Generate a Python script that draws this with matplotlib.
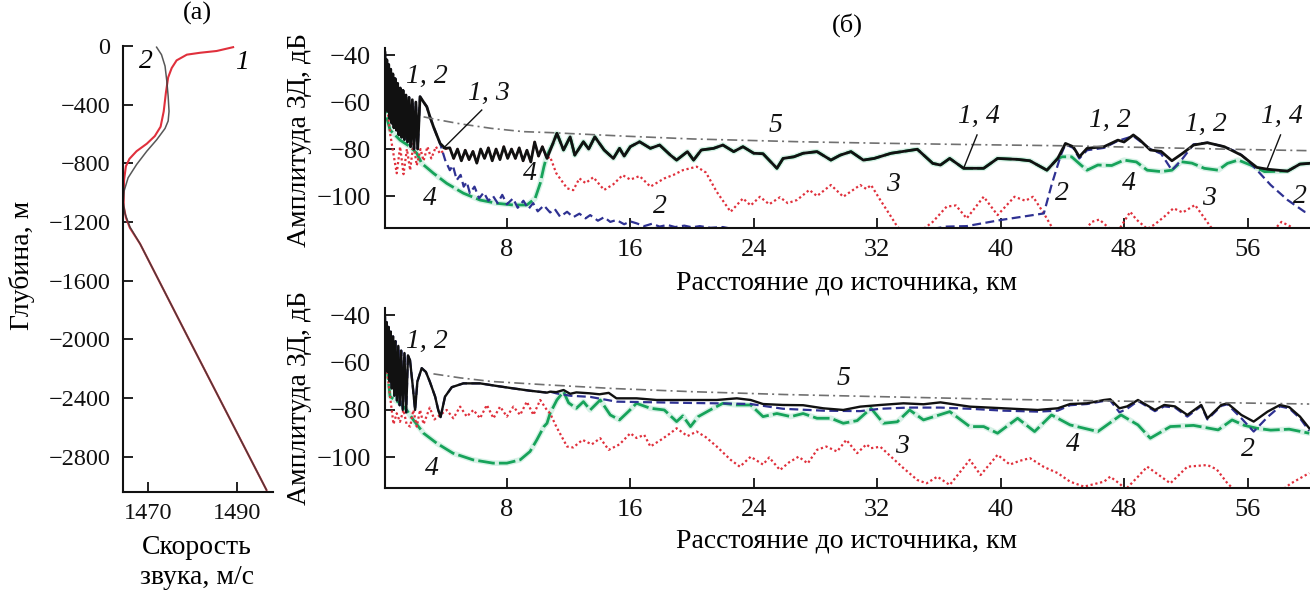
import matplotlib
matplotlib.use("Agg")
import matplotlib.pyplot as plt
import numpy as np

plt.rcParams['font.family'] = ['Liberation Serif', 'DejaVu Serif']
plt.rcParams['mathtext.fontset'] = 'stix'

# ---------------- panel (a): sound speed profiles ----------------
a_speed1 = [1489.2, 1485.5, 1481.8, 1478.8, 1476.5, 1475.4, 1474.6, 1474.1, 1473.6, 1472.9,
            1471.6, 1469.8, 1467.5, 1465.9, 1465.1, 1464.7, 1464.6, 1464.6, 1465.1, 1466.0,
            1468.3, 1479.1, 1496.7]
a_depth1 = [-8, -34, -46, -59, -98, -150, -214, -317, -446, -550,
            -614, -666, -717, -769, -820, -911, -1014, -1091, -1169, -1240,
            -1349, -1989, -3026]
a_speed2 = [1472.0, 1473.1, 1473.9, 1474.3, 1474.6, 1474.8, 1474.6, 1473.9, 1472.0, 1469.8,
            1467.5, 1465.6, 1464.7, 1464.5, 1464.9, 1466.0, 1468.3, 1479.1, 1496.7]
a_depth2 = [-8, -59, -137, -240, -343, -446, -511, -562, -640, -717,
            -808, -898, -988, -1066, -1143, -1233, -1349, -1989, -3026]
a_yticks = [0, -400, -800, -1200, -1600, -2000, -2400, -2800]
a_xticks = [1470, 1490]

# ---------------- panel (б), top ----------------
t1_r = [0.10, 0.16, 0.22, 0.28, 0.34, 0.40, 0.47, 0.54, 0.61, 0.68, 0.76, 0.84, 0.92, 1.00,
        1.09, 1.18, 1.27, 1.36, 1.46, 1.56, 1.66, 1.76, 1.87, 1.98, 2.10, 2.22,
        2.37, 2.6, 2.81, 3.0, 3.24, 3.45, 3.67, 4.0, 4.3,
        4.55, 4.8, 5.05, 5.3, 5.55, 5.8, 6.05, 6.3, 6.55, 6.8, 7.05, 7.3, 7.55, 7.8, 8.05, 8.3,
        8.55, 8.8, 9.05, 9.3, 9.55, 9.8, 10.05, 10.3, 10.6,
        10.9, 11.24, 11.67, 12.1, 12.4, 12.96, 13.3, 13.7, 14.3, 14.9, 15.3, 15.6, 16.0, 16.6,
        17.3, 17.9, 18.6, 19.0, 19.7, 20.1, 20.6, 21.4, 22.0, 22.7, 23.3, 24.0, 24.6, 25.5,
        25.9, 26.6, 27.2, 28.1, 29.0, 29.6, 30.3, 31.1, 31.8, 32.9, 34.6, 35.6, 36.1, 36.7,
        37.6, 38.9, 39.8, 41.1, 41.9, 43.0, 43.7, 44.2, 44.7, 45.1, 45.6, 46.7, 47.6, 48.0,
        48.6, 49.0, 49.7, 50.4, 51.1, 51.8, 52.5, 53.4, 54.5, 55.6, 56.6, 57.3, 58.6, 59.4, 60.0]
t1_a = [-39, -60, -42, -64, -44, -67, -46, -69, -48, -71, -50, -72, -52, -74,
        -54, -75, -55, -76, -57, -77, -58, -79, -59, -80, -60, -80,
        -57.7, -60, -62, -66, -70.5, -74, -77.6, -79.7, -79.5,
        -84, -80, -85, -80.5, -84.5, -81, -86, -80, -84, -79.5, -85, -80, -84.5, -79, -84, -80,
        -84, -79.5, -85, -80.5, -85.5, -77, -83, -79, -84,
        -79, -73.3, -80.4, -74.8, -82.6, -76.9, -80, -74.8, -80.4, -84, -79.7, -83, -79, -76.9,
        -79.7, -78.3, -82.6, -84.7, -81.1, -84.7, -80.4, -79.7, -78.3, -81.1, -79, -81.8, -82, -88.2,
        -84, -83.3, -81.8, -81.1, -84.7, -82.6, -81.1, -84.7, -84, -81.8, -80.1, -86.1, -86.8, -84,
        -88.2, -88.2, -84, -84.4, -85, -89, -84, -77.6, -79, -83.3, -79.7, -79, -76.2, -77,
        -74, -76, -80.4, -81, -85, -81.8, -78.3, -77.3, -79, -82.6, -87.8, -88.6, -89.4, -86.4, -86.1]

t2_r = [4.0, 4.3, 4.5, 4.75, 5.0, 5.2, 5.4, 5.6, 5.9, 6.2, 6.5, 6.8, 7.1, 7.4, 7.7, 8.0, 8.4, 8.7,
        9.07, 9.4, 9.7, 10.0, 10.4, 10.8, 11.1, 11.45, 11.9, 12.3, 12.7, 13.1, 13.4, 13.9, 14.3,
        14.7, 15.1, 15.6, 16.0, 16.4, 16.9, 17.4, 17.9, 18.4, 18.9, 19.5, 20.0, 20.5, 21.2, 22.0,
        23.0, 30.0, 36.5, 37.8, 40.0, 42.8, 43.3, 43.9, 44.2, 44.7, 45.1, 45.6, 46.7, 47.6, 48.6,
        49.7, 50.4, 51.1, 51.8, 52.5, 53.4, 54.5, 55.4, 56.0, 56.8, 57.5, 58.6, 59.7, 60.0]
t2_a = [-84.7, -89, -87, -93.2, -91, -96, -94, -98.8, -96, -101, -98.5, -102, -100, -103, -99.5,
        -103.5, -101, -105, -102, -105.5, -103, -106.5, -104, -107, -105.5, -108.8, -106.7, -109,
        -107.5, -109.5, -108.1, -110.5, -109, -111, -110.2, -112, -110.8, -111.6, -112.8, -111.8,
        -113, -112.3, -113.2, -112.6, -113.3, -112.8, -113.5, -113.2, -114.5, -120, -113, -112.8,
        -110.2, -107.4, -95.3, -82.6, -78, -79.5, -84, -80.5, -79.5, -76.5, -74.5, -80, -82, -89,
        -84, -78, -77.3, -79, -81.5, -84.7, -90.3, -95.3, -101.7, -106.7, -107.2]

t3_r = [0.2, 0.43, 0.64, 0.86, 1.08, 1.3, 1.52, 1.73, 1.94, 2.16, 2.4, 2.6, 2.85, 3.1, 3.4, 3.67, 4.0]
t3_a = [-59.1, -73.3, -81.8, -90.3, -79, -90.7, -80, -89, -77.6, -87, -80, -85, -79, -84, -79, -82, -80]
t3b_r = [10.8, 11.2, 11.9, 12.3, 12.7, 13.1, 13.6, 14.3, 14.9, 15.5, 16.0, 16.6, 17.3, 18.2, 18.8,
         19.4, 20.3, 20.9, 21.6, 22.5, 23.3, 23.8, 24.4, 25.0, 25.7, 26.2, 26.8, 27.6, 28.1, 29.0,
         29.8, 30.9, 31.3, 31.6, 32.2, 32.9, 33.3, 33.8, 35.0, 35.6, 36.5, 37.1, 37.8, 38.9, 39.8,
         40.9, 41.6, 42.1, 42.8, 43.3, 43.8, 45.3, 45.9, 46.4, 47.0, 47.6, 48.4, 48.8, 49.5, 50.0,
         50.6, 51.2, 51.8, 52.6, 53.6, 54.0, 57.5, 58.2, 58.8]
t3b_a = [-83.3, -90.3, -96.7, -97.5, -92.5, -94.5, -92, -97.4, -95, -91.1, -93, -91.5, -96, -92.5,
         -91, -89, -87.5, -90, -98.2, -106.7, -101, -104, -100.3, -103.5, -100.5, -103, -101.7,
         -97.4, -100, -95.3, -100.3, -95.3, -97, -95.3, -101.7, -108.8, -113, -116, -114, -111,
         -104.5, -104, -109.5, -100.3, -108.1, -100.3, -102, -100.3, -107.4, -113, -117, -116, -111,
         -110, -113.5, -115, -106.7, -110, -114, -112, -108.8, -105.2, -107, -103.8, -113, -116,
         -116, -111, -113]

t4_r = [0.1, 0.2, 0.43, 1.08, 1.73, 2.16, 2.48, 3.24, 4.1, 5.18, 6.26, 7.35, 8.4, 9.3, 9.83,
        10.16, 10.4, 10.6, 11.0]
t4_a = [-57.7, -66.3, -71.9, -76.2, -79, -81.8, -86.1, -90.3, -94.6, -98.8, -101.7, -103.1, -103.8,
        -103.8, -101, -94.6, -87.5, -82.6, -77.6]
t4b_r = [44.0, 44.6, 45.2, 45.6, 46.3, 47.2, 48.0, 48.8, 49.5, 50.4, 51.1, 51.7, 52.4, 53.2, 54.1,
         54.7, 55.4, 56.2, 57.1]
t4b_a = [-83.3, -83.3, -86.8, -89, -86.8, -87, -84.7, -85.5, -89, -89.6, -89, -85.4, -86, -88.2,
         -89, -86.1, -84.7, -86.8, -89.6]

t5_r = [2.6, 3.5, 5.0, 7.0, 9.07, 10.8, 15.6, 20.0, 27.0, 32.0, 38.0, 44.0, 50.0, 55.0, 60.0]
t5_a = [-66.3, -67.5, -69.3, -71.2, -72.6, -73.0, -74.5, -75.7, -76.9, -77.5, -78.1, -78.6, -79.4,
        -80.1, -80.7]

# ---------------- panel (б), bottom ----------------
b1_r = [0.10, 0.15, 0.21, 0.27, 0.33, 0.40, 0.47, 0.54, 0.62, 0.70, 0.78, 0.87, 0.96, 1.05, 1.15,
        1.25, 1.36, 1.47, 1.59, 1.72, 1.9, 2.05, 2.2, 2.48, 2.75, 3.0, 3.35, 3.55, 3.7, 3.99, 4.43,
        5.18, 6.26, 7.35, 8.4, 9.5, 10.6, 10.8, 11.2, 11.67, 12.1, 12.5, 13.4, 14.0, 14.6, 15.1,
        16.4, 17.7, 19.4, 21.6, 22.9, 23.8, 24.6, 25.9, 27.2, 28.5, 29.8, 30.9, 32.2, 33.7, 35.0,
        36.1, 38.0, 40.2, 42.4, 43.7, 44.5, 45.6, 46.7, 47.1, 47.7, 48.2, 48.9, 50.0, 50.6, 51.3,
        52.1, 53.0, 53.4, 54.3, 54.7, 55.6, 56.4, 57.3, 58.1, 58.7, 59.4, 60.0]
b1_a = [-40.7, -60, -43, -64, -45, -68, -47, -71, -49, -74, -51, -76, -53, -78, -55,
        -80, -56, -81, -57, -59, -70, -80, -68, -62.4, -64, -68, -74.4, -80, -83, -74.4, -70.4,
        -68.8, -68.8, -69.9, -70.9, -71.9, -72.7, -72.3, -72.5, -71.6, -73.2, -72.6, -73, -73.4,
        -72.8, -75.1, -75.1, -75.8, -75.8, -75.8, -75.1, -75.8, -77.5, -77.9, -78, -79.3, -80,
        -78.6, -77.9, -77.2, -77.6, -76.8, -78.6, -79.3, -80, -79.3, -77.5, -77.2, -75.8, -75.5,
        -79.3, -78.5, -75.8, -80, -77.9, -78.5, -82.1, -77.9, -83.5, -77.9, -77.2, -82.1, -84.9,
        -80.7, -77.9, -78.8, -82.8, -87.7]

b2_r = [11.2, 12.1, 13.4, 15.1, 17.7, 19.4, 21.6, 23.8, 25.9, 28.5, 30.9, 32.2, 34.0, 36.1, 38.0,
        40.2, 42.4, 43.7, 44.5, 45.6, 46.7, 47.1, 47.7, 48.2, 48.9, 50.0, 50.6, 51.3, 52.1, 53.0,
        53.4, 54.3, 54.7, 55.6, 56.4, 57.3, 58.1, 58.7, 59.4, 60.0]
b2_a = [-73, -74, -74.5, -76.5, -76.8, -77, -77.2, -77.5, -79.5, -80.3, -80.5, -79.5, -79, -79,
        -79.5, -80.3, -80.7, -80.3, -78, -77.5, -76.2, -76, -81, -79.5, -76.2, -80.5, -78.5, -79,
        -82.8, -78.3, -84, -78.3, -77.6, -83.5, -89.1, -83, -78.5, -79.3, -83.5, -88.8]

b3_r = [0.2, 0.43, 0.65, 0.86, 1.07, 1.3, 1.5, 1.73, 1.94, 2.16, 2.37, 2.6, 3.0, 3.3, 3.67, 4.1,
        4.53, 4.97, 5.4, 5.83, 6.26, 6.7, 7.13, 7.56, 8.0, 8.42, 8.86, 9.29, 9.72, 10.16, 10.59,
        10.8, 11.2, 11.9, 12.3, 12.9, 13.5, 14.05, 14.6, 15.3, 16.0, 16.4, 16.9, 17.3, 18.0, 18.6,
        19.0, 19.7, 20.3, 20.9, 21.6, 22.5, 23.1, 23.8, 24.6, 25.0, 25.7, 26.3, 26.9, 27.5, 28.1,
        28.7, 29.4, 30.0, 30.7, 31.3, 31.6, 32.2, 32.9, 33.7, 34.6, 35.2, 35.9, 36.7, 38.0, 38.7,
        39.8, 40.6, 41.2, 41.9, 42.8, 43.7, 44.5, 45.4, 46.7, 47.1, 47.7, 48.1, 48.9, 49.5, 50.4,
        51.0, 52.1, 53.4, 54.0, 54.7, 55.2, 58.0, 58.8, 59.4, 60.0]
b3_a = [-61.8, -74.4, -86, -81.4, -85, -80, -86, -87, -80, -87, -80, -86, -79, -84, -82.1, -80,
        -83.5, -78.6, -82.8, -80, -83.5, -77.9, -83.5, -78.6, -82.8, -78.6, -82.1, -76.5, -82.1,
        -75.8, -80, -81.4, -87, -95.4, -95.8, -92.6, -94.5, -91.9, -96.8, -94.5, -89.8, -91.8,
        -90.5, -95.4, -92.5, -89.8, -87.7, -91, -89.1, -91.5, -95.4, -101, -103.9, -99.7, -103,
        -100, -105.3, -102, -99.7, -102.5, -96.8, -95.4, -97.5, -92.6, -98.2, -94.5, -96.1, -95.5,
        -99.7, -104.5, -109.5, -110.9, -108.1, -111.6, -101, -107.4, -98.9, -103, -101.5, -100.3,
        -104, -106.6, -110.2, -112.3, -110.2, -108.1, -111, -113.5, -108.1, -103.9, -108.1, -110.9,
        -103.9, -103.2, -105, -110.9, -114, -115, -111, -108.8, -106.6]

b4_r = [0.2, 0.43, 1.08, 1.5, 1.94, 2.6, 3.45, 4.5, 5.8, 7.1, 8.0, 8.86, 9.5, 9.94, 10.4, 10.6,
        10.8, 11.24, 11.67, 12.0, 12.5, 12.96, 13.4, 14.05, 14.7, 15.3, 15.9, 16.4, 17.3, 18.2,
        19.0, 19.4, 19.9, 20.4, 21.2, 22.0, 22.9, 23.8, 24.6, 25.5, 26.4, 27.2, 28.1, 29.0, 29.8,
        30.7, 31.6, 32.4, 33.3, 34.1, 35.0, 36.7, 38.0, 38.9, 39.8, 41.1, 42.2, 43.3, 44.5, 46.3,
        47.8, 48.9, 49.7, 51.0, 52.5, 54.1, 55.0, 55.8, 56.6, 57.5, 58.7, 60.0]
b4_a = [-60.3, -74.4, -77.2, -80, -84.2, -89.8, -94, -98.2, -101, -102.4, -102.4, -101, -97.5,
        -92.6, -87, -85.6, -81.4, -75.8, -72.3, -77, -79.3, -76.5, -80, -75.8, -82.1, -84.2, -80.5,
        -77.2, -79.3, -80, -84.9, -82.5, -87, -82.8, -79.9, -77.2, -77.9, -77.9, -82.8, -81.5,
        -82.8, -81.5, -83.5, -83.5, -85.6, -84.5, -79.3, -85.6, -85, -80, -84.2, -80.7, -87, -87,
        -89.8, -83.5, -89.1, -82.1, -86.3, -89.1, -82.1, -86.3, -91.9, -87, -86.5, -88.4, -84.2,
        -86.5, -87.7, -88.5, -88.1, -89.8]

b5_r = [3.24, 5.0, 7.0, 10.8, 15.0, 20.0, 26.0, 32.2, 40.0, 48.0, 54.0, 60.0]
b5_a = [-64.8, -66.5, -68.0, -69.5, -71.0, -72.3, -73.5, -74.4, -75.5, -76.3, -76.9, -77.5]

b_xticks = [8, 16, 24, 32, 40, 48, 56]
b_yticks = [-40, -60, -80, -100]

# ---------------- styles ----------------
C_BLACK = '#111111'
C_BLUE = '#2e3192'
C_RED = '#e0303c'
C_GREEN = '#17a35a'
C_GREEN_HALO = '#c6ecdc'
C_GRAY = '#707070'

FS_TICK_A = 17.5
FS_TICK_B = 19
FS_LABEL = 20
FS_CURVE = 20
FS_TITLE = 19

W, H = 1310, 590
fig = plt.figure(figsize=(W / 100, H / 100), dpi=100)


def fx(px):
    return px / W


def fy(py):
    return 1 - py / H


def seg(r, a, lo, hi):
    rr = [x for x in r if lo <= x <= hi]
    aa = [y for x, y in zip(r, a) if lo <= x <= hi]
    return rr, aa


def style_axes(ax, fs):
    for s in ['top', 'right']:
        ax.spines[s].set_visible(False)
    for s in ['left', 'bottom']:
        ax.spines[s].set_linewidth(1.5)
        ax.spines[s].set_color('#111111')
    ax.tick_params(direction='in', length=7, width=1.3, labelsize=fs, colors='#111111')


# ---- panel (a)
ax_a = fig.add_axes([fx(123), fy(492), fx(272.7 - 123), (492 - 46) / H])
ax_a.plot(a_speed1, a_depth1, color=C_RED, lw=1.5)
ax_a.plot(a_speed2, a_depth2, color='#3a3a3a', lw=1.1, alpha=0.85)
ax_a.set_xlim(1464.45, 1498.1)
ax_a.set_ylim(-3040, 0)
ax_a.set_yticks(a_yticks)
ax_a.set_yticklabels([('\u2212' + str(-v)) if v < 0 else str(v) for v in a_yticks])
ax_a.set_xticks(a_xticks)
style_axes(ax_a, FS_TICK_A)
ax_a.tick_params(axis='y', pad=9)
ax_a.tick_params(axis='x', pad=8)
ax_a.text(1469.6, -105, '2', fontsize=FS_CURVE, style='italic', ha='center', va='center')
ax_a.text(1491.2, -110, '1', fontsize=FS_CURVE, style='italic', ha='center', va='center')

fig.text(fx(197), fy(13), '(a)', fontsize=FS_TITLE, ha='center', va='center')
fig.text(fx(22), fy(265), 'Глубина, м', fontsize=FS_LABEL, rotation=90, ha='center', va='center')
fig.text(fx(197), fy(547), 'Скорость', fontsize=FS_LABEL, ha='center', va='center')
fig.text(fx(197), fy(578), 'звука, м/с', fontsize=FS_LABEL, ha='center', va='center')
fig.text(fx(847), fy(25), '(б)', fontsize=FS_TITLE, ha='center', va='center')


def draw_curves(ax, c1, c2, c3, c4, c5, lw1):
    # 4: green
    ax.plot(c4[0], c4[1], color=C_GREEN_HALO, lw=4.0, alpha=0.7, solid_capstyle='round')
    ax.plot(c4[0], c4[1], color=C_GREEN, lw=2.0, ls=(0, (6, 1.5)))
    # 3: red dotted
    ax.plot(c3[0], c3[1], color=C_RED, lw=1.6, ls=(0, (1, 1.2)))
    # 2: blue dashed
    ax.plot(c2[0], c2[1], color=C_BLUE, lw=1.6, ls=(0, (4, 2)))
    # 1: black
    ax.plot(c1[0], c1[1], color=C_BLACK, lw=lw1)
    # 5: gray dash-dot
    ax.plot(c5[0], c5[1], color=C_GRAY, lw=1.2, ls=(0, (6, 2.5, 1.2, 2.5)))


def setup_b(ax, ylim):
    ax.set_xlim(0.1, 60.05)
    ax.set_ylim(*ylim)
    ax.set_xticks(b_xticks)
    ax.set_yticks(b_yticks)
    ax.set_yticklabels(['\u2212' + str(-v) for v in b_yticks])
    style_axes(ax, FS_TICK_B)
    ax.tick_params(axis='y', pad=10)
    ax.tick_params(axis='x', pad=8)


def lab(ax, x, y, s):
    ax.text(x, y, s, fontsize=FS_CURVE, style='italic', ha='center', va='center', color='#111111')


# ---- panel (б) top
ax_t = fig.add_axes([fx(385), fy(228), fx(1310 - 385), 180 / H])
r, a = seg(t1_r, t1_a, 0, 3.67)
c2 = (r + t2_r, a + t2_a)
r, a = seg(t1_r, t1_a, 4.3, 10.6)
c3 = (t3_r + r + t3b_r, t3_a + a + t3b_a)
r1, a1 = seg(t1_r, t1_a, 11.24, 43.7)
r2, a2 = seg(t1_r, t1_a, 58.6, 60.0)
c4 = (t4_r + r1 + t4b_r + r2, t4_a + a1 + t4b_a + a2)
draw_curves(ax_t, (t1_r, t1_a), c2, c3, c4, (t5_r, t5_a), 2.0)
setup_b(ax_t, (-113.6, -37.0))

lab(ax_t, 2.81, -49.2, '1, 2')
lab(ax_t, 6.8, -56.3, '1, 3')
lab(ax_t, 25.4, -69.8, '5')
lab(ax_t, 3.02, -101, '4')
lab(ax_t, 9.5, -90.3, '4')
lab(ax_t, 17.9, -104.5, '2')
lab(ax_t, 38.6, -66.3, '1, 4')
lab(ax_t, 33.0, -95.3, '3')
lab(ax_t, 44.0, -98.8, '2')
lab(ax_t, 47.1, -68.0, '1, 2')
lab(ax_t, 48.3, -94.6, '4')
lab(ax_t, 53.3, -69.4, '1, 2')
lab(ax_t, 53.5, -101, '3')
lab(ax_t, 58.25, -66.3, '1, 4')
lab(ax_t, 59.4, -100.3, '2')
ax_t.plot([6.37, 3.88], [-63.4, -79.7], color='#111111', lw=1.0)
ax_t.plot([38.47, 37.6], [-74.0, -88.2], color='#111111', lw=1.0)
ax_t.plot([58.14, 57.28], [-74.0, -88.2], color='#111111', lw=1.0)

fig.text(fx(300), fy(140), 'Амплитуда ЗД, дБ', fontsize=FS_LABEL, rotation=90, ha='center', va='center')
fig.text(fx(847), fy(283), 'Расстояние до источника, км', fontsize=FS_LABEL, ha='center', va='center')

# ---- panel (б) bottom
ax_b = fig.add_axes([fx(385), fy(488.3), fx(1310 - 385), 180.3 / H])
r, a = seg(b1_r, b1_a, 0, 10.8)
c2 = (r + b2_r, a + b2_a)
draw_curves(ax_b, (b1_r, b1_a), c2, (b3_r, b3_a), (b4_r, b4_a), (b5_r, b5_a), 1.7)
setup_b(ax_b, (-113.0, -37.05))

lab(ax_b, 2.81, -51.2, '1, 2')
lab(ax_b, 3.13, -104.5, '4')
lab(ax_b, 29.8, -66.6, '5')
lab(ax_b, 33.6, -95.4, '3')
lab(ax_b, 44.7, -94.7, '4')
lab(ax_b, 56.0, -96.8, '2')

fig.text(fx(300), fy(398), 'Амплитуда ЗД, дБ', fontsize=FS_LABEL, rotation=90, ha='center', va='center')
fig.text(fx(847), fy(541), 'Расстояние до источника, км', fontsize=FS_LABEL, ha='center', va='center')

fig.savefig('out.png', dpi=100)
